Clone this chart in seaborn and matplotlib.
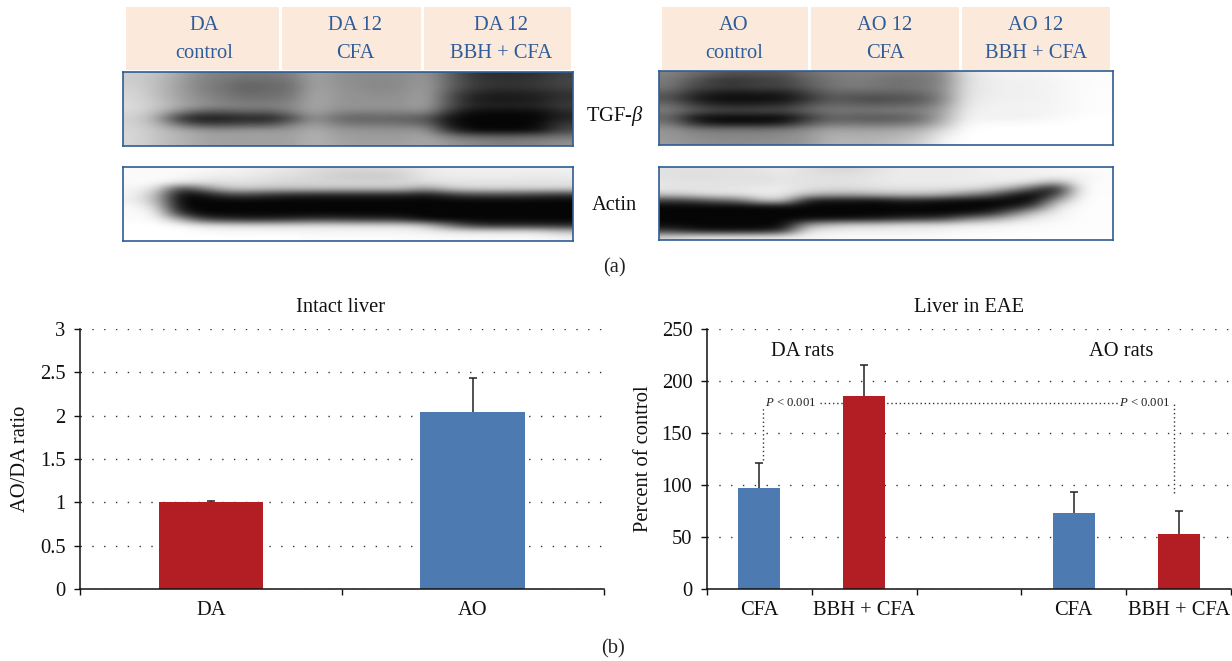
import matplotlib
matplotlib.use("Agg")
import matplotlib.pyplot as plt
from matplotlib.patches import Rectangle
import numpy as np
import pandas as pd
import seaborn as sns

# bar values
intact_groups = ["DA", "AO"]
intact_values = [1.0, 2.04]
intact_err = [0.01, 0.39]

eae_groups = ["DA CFA", "DA BBH", "gap", "AO CFA", "AO BBH"]
eae_labels = ["CFA", "BBH + CFA", "", "CFA", "BBH + CFA"]
eae_values = [97, 185.5, np.nan, 73, 53]
eae_err = [24, 30, 0, 20, 22]

header_da = ["DA\ncontrol", "DA 12\nCFA", "DA 12\nBBH + CFA"]
header_ao = ["AO\ncontrol", "AO 12\nCFA", "AO 12\nBBH + CFA"]

# blots as coarse grey levels (0 black, 255 white), 12 rows x 20 columns
tgf_da = [
    [205, 195, 165, 135, 125, 120, 120, 125, 165, 145, 140, 140, 140, 150, 100, 55, 45, 45, 50, 65],
    [205, 190, 160, 130, 120, 105, 110, 115, 165, 145, 140, 135, 140, 155, 100, 60, 50, 50, 55, 70],
    [210, 190, 160, 130, 115, 95, 105, 110, 165, 150, 140, 135, 140, 160, 100, 60, 50, 50, 55, 65],
    [215, 190, 160, 135, 120, 105, 110, 115, 170, 150, 145, 140, 145, 160, 85, 40, 30, 30, 35, 50],
    [215, 195, 165, 140, 125, 115, 115, 125, 170, 150, 145, 145, 145, 165, 80, 30, 25, 25, 30, 50],
    [220, 200, 170, 145, 135, 130, 130, 135, 170, 150, 150, 150, 150, 160, 80, 40, 35, 35, 40, 60],
    [215, 190, 130, 85, 85, 95, 90, 125, 165, 135, 130, 130, 130, 140, 50, 10, 10, 10, 10, 40],
    [210, 170, 50, 20, 25, 35, 30, 70, 150, 105, 95, 100, 95, 85, 15, 5, 5, 5, 5, 35],
    [210, 185, 115, 70, 70, 80, 80, 125, 160, 130, 120, 120, 115, 110, 20, 5, 5, 5, 10, 60],
    [215, 195, 175, 155, 150, 155, 155, 155, 175, 155, 150, 150, 150, 150, 50, 10, 5, 5, 15, 70],
    [215, 195, 180, 165, 160, 160, 160, 160, 180, 160, 155, 155, 155, 165, 130, 110, 105, 105, 110, 120],
    [215, 195, 180, 165, 160, 160, 160, 160, 180, 165, 160, 160, 160, 170, 150, 140, 130, 130, 135, 145],
]
actin_da = [
    [250, 250, 250, 248, 245, 240, 235, 230, 220, 215, 215, 215, 220, 235, 240, 240, 240, 240, 240, 240],
    [250, 250, 248, 240, 235, 235, 225, 220, 215, 205, 200, 200, 210, 230, 235, 235, 235, 235, 230, 235],
    [250, 250, 235, 225, 225, 225, 220, 215, 215, 215, 215, 215, 215, 225, 228, 228, 228, 228, 228, 228],
    [245, 225, 60, 120, 190, 200, 190, 190, 190, 190, 190, 190, 190, 150, 200, 210, 210, 210, 210, 210],
    [245, 190, 10, 15, 60, 70, 50, 40, 35, 35, 35, 35, 35, 20, 50, 70, 70, 70, 60, 50],
    [240, 190, 5, 5, 5, 5, 5, 5, 5, 5, 5, 5, 5, 5, 5, 5, 5, 5, 5, 5],
    [250, 220, 10, 5, 5, 5, 5, 5, 5, 5, 5, 5, 5, 5, 5, 5, 5, 5, 5, 5],
    [250, 245, 50, 5, 5, 5, 5, 5, 5, 5, 5, 5, 5, 5, 5, 5, 5, 5, 5, 5],
    [250, 250, 180, 70, 50, 40, 40, 50, 60, 60, 50, 50, 40, 5, 5, 5, 5, 5, 5, 5],
    [255, 255, 250, 235, 225, 225, 225, 225, 228, 228, 225, 225, 225, 200, 120, 60, 45, 45, 45, 40],
    [255, 255, 255, 250, 248, 248, 248, 245, 245, 245, 245, 245, 245, 240, 235, 230, 230, 230, 225, 200],
    [255, 255, 255, 255, 255, 255, 255, 255, 252, 252, 252, 252, 252, 252, 250, 250, 250, 250, 250, 245],
]
tgf_ao = [
    [130, 110, 90, 80, 85, 85, 110, 125, 130, 130, 125, 125, 135, 225, 240, 245, 245, 250, 252, 253],
    [120, 85, 55, 50, 60, 65, 95, 115, 125, 120, 110, 115, 130, 220, 235, 240, 240, 245, 250, 252],
    [120, 75, 65, 60, 70, 70, 90, 115, 125, 120, 115, 120, 135, 225, 235, 240, 240, 245, 250, 252],
    [95, 50, 30, 25, 30, 30, 65, 100, 100, 100, 100, 105, 135, 225, 235, 240, 240, 245, 250, 253],
    [80, 30, 10, 10, 10, 15, 45, 85, 80, 70, 80, 85, 130, 228, 238, 240, 240, 245, 250, 253],
    [110, 65, 40, 35, 40, 45, 80, 105, 100, 95, 100, 105, 145, 232, 240, 242, 242, 245, 250, 253],
    [125, 90, 75, 70, 75, 75, 100, 120, 120, 120, 125, 130, 160, 238, 242, 242, 242, 245, 250, 253],
    [100, 20, 5, 5, 5, 5, 50, 95, 90, 85, 90, 105, 170, 240, 242, 240, 242, 248, 252, 255],
    [120, 50, 20, 20, 20, 30, 85, 115, 115, 110, 115, 130, 185, 248, 250, 250, 252, 253, 255, 255],
    [150, 125, 120, 120, 120, 125, 140, 165, 160, 160, 165, 175, 215, 253, 255, 255, 255, 255, 255, 255],
    [150, 140, 135, 135, 135, 140, 150, 175, 175, 175, 180, 195, 235, 255, 255, 255, 255, 255, 255, 255],
    [155, 145, 140, 140, 140, 145, 150, 180, 180, 180, 190, 205, 245, 255, 255, 255, 255, 255, 255, 255],
]
actin_ao = [
    [225, 225, 225, 225, 230, 235, 225, 215, 215, 225, 235, 235, 235, 235, 240, 240, 240, 245, 250, 252],
    [225, 220, 225, 225, 225, 230, 225, 225, 225, 230, 235, 235, 235, 235, 238, 240, 240, 245, 240, 250],
    [228, 225, 225, 225, 225, 230, 225, 225, 225, 230, 235, 235, 235, 235, 235, 235, 225, 170, 245, 252],
    [230, 230, 230, 230, 235, 235, 225, 220, 220, 225, 225, 225, 225, 225, 210, 170, 90, 15, 245, 252],
    [200, 210, 225, 225, 235, 235, 190, 170, 170, 180, 190, 190, 180, 140, 110, 40, 5, 60, 248, 252],
    [60, 70, 100, 110, 190, 200, 30, 20, 20, 10, 30, 30, 15, 10, 5, 5, 5, 160, 250, 253],
    [5, 5, 5, 5, 5, 10, 5, 5, 5, 5, 5, 5, 5, 5, 5, 20, 70, 225, 252, 253],
    [5, 5, 5, 5, 5, 5, 5, 5, 5, 5, 5, 5, 5, 10, 30, 100, 190, 240, 252, 253],
    [5, 5, 5, 5, 5, 5, 10, 10, 15, 20, 40, 50, 60, 120, 150, 200, 235, 245, 252, 253],
    [10, 5, 5, 5, 5, 5, 150, 190, 210, 210, 220, 225, 225, 235, 240, 245, 248, 250, 253, 253],
    [60, 30, 20, 20, 25, 50, 230, 235, 240, 240, 240, 240, 245, 248, 250, 250, 252, 253, 253, 253],
    [215, 230, 235, 235, 235, 240, 245, 248, 250, 250, 250, 250, 250, 252, 252, 253, 253, 253, 253, 253],
]

RED = "#b21e24"
BLUE = "#4e7ab2"
FRAME = "#2f5c94"
INK = "#111111"
FS = 14.8
W, H = 1232, 661

sns.set_theme(style="white")
plt.rcParams["font.family"] = ["Liberation Serif", "DejaVu Serif"]
plt.rcParams["mathtext.fontset"] = "custom"
plt.rcParams["mathtext.rm"] = "Liberation Serif"
plt.rcParams["mathtext.it"] = "Liberation Serif:italic"

fig = plt.figure(figsize=(W / 100, H / 100), dpi=100)


def px_axes(x0, y0, x1, y1):
    return fig.add_axes([x0 / W, 1 - y1 / H, (x1 - x0) / W, (y1 - y0) / H])


# page overlay in pixel coordinates, for headers and loose labels
page = px_axes(0, 0, W, H)
page.set_xlim(0, W)
page.set_ylim(H, 0)
page.axis("off")

for spans, names, centres in [([(126, 279), (282, 421), (424, 571)], header_da, (204, 355, 501)),
                              ([(662, 808), (811, 959), (962, 1110)], header_ao, (734, 885, 1036))]:
    for (a, b), name, mid in zip(spans, names, centres):
        page.add_patch(Rectangle((a, 7), b - a, 63, color="#fbe9db", lw=0))
        first, second = name.split("\n")
        page.text(mid, 25, first, color="#2f5c9a", fontsize=FS, ha="center", va="center")
        page.text(mid, 53, second, color="#2f5c9a", fontsize=FS, ha="center", va="center")

page.text(615, 116, r"TGF-$\mathit{\beta}$", fontsize=FS, ha="center", va="center", color=INK)
page.text(614, 205, "Actin", fontsize=FS, ha="center", va="center", color=INK)
page.text(614, 268, "(a)", fontsize=FS, ha="center", va="center", color="#222222")
page.text(613, 649, "(b)", fontsize=FS, ha="center", va="center", color="#222222")

# western blots
for grid, box in [(tgf_da, (123, 72, 573, 146)), (actin_da, (123, 167, 573, 241)),
                  (tgf_ao, (659, 71, 1113, 145)), (actin_ao, (659, 167, 1113, 240))]:
    ax = px_axes(*box)
    ax.imshow(np.array(grid), cmap="gray", vmin=0, vmax=255, aspect="auto", interpolation="bicubic")
    ax.set_xticks([])
    ax.set_yticks([])
    for s in ax.spines.values():
        s.set_color(FRAME)
        s.set_linewidth(1.2)


def style_bars(ax, n, ylabel, label_x, labels):
    sns.despine(ax=ax)
    ax.set_xlim(-0.5, n - 0.5)
    ax.set_xticks(np.arange(n + 1) - 0.5)
    ax.set_xticklabels([])
    ax.set_xticks(np.arange(n), labels=labels, minor=True)
    ax.tick_params(axis="x", which="major", length=4, width=1, color=INK, bottom=True)
    ax.tick_params(axis="x", which="minor", length=0, labelsize=FS, pad=8.5, labelcolor=INK)
    ax.tick_params(axis="y", length=4, width=1, color=INK, left=True, labelsize=FS,
                   pad=6.5, labelcolor=INK)
    for s in ("left", "bottom"):
        ax.spines[s].set_color(INK)
        ax.spines[s].set_linewidth(1.1)
    ax.set_axisbelow(True)
    ax.yaxis.grid(True, linestyle=(0, (1, 7.5)), linewidth=1, color="#333333")
    ax.xaxis.grid(False)
    ax.set_xlabel("")
    ax.set_ylabel(ylabel, fontsize=FS, color=INK, va="center")
    ax.yaxis.set_label_coords(label_x, 0.5)


def upper_errors(ax, values, err):
    # only the upper whisker and cap, like the original
    caps = ax.errorbar(range(len(values)), values, yerr=[[0] * len(err), err], fmt="none",
                       ecolor="#222222", elinewidth=1.1, capsize=3, capthick=1.1)[1]
    caps[0].set_visible(False)


# panel b left
ax1 = px_axes(80, 329, 603.5, 589)
intact_df = pd.DataFrame({"group": intact_groups, "value": intact_values})
sns.barplot(data=intact_df, x="group", y="value", hue="group", order=intact_groups,
            palette=[RED, BLUE], width=0.4, errorbar=None, saturation=1, legend=False,
            linewidth=0, ax=ax1)
upper_errors(ax1, intact_values, intact_err)
ax1.set_ylim(0, 3)
ax1.set_yticks([0, 0.5, 1, 1.5, 2, 2.5, 3], labels=["0", "0.5", "1", "1.5", "2", "2.5", "3"])
style_bars(ax1, 2, "AO/DA ratio", (21 - 80) / 523.5, intact_groups)
page.text(341, 307, "Intact liver", fontsize=FS, ha="center", va="center", color=INK)

# panel b right
ax2 = px_axes(707, 329, 1231, 589)
eae_df = pd.DataFrame({"group": eae_groups, "value": eae_values})
sns.barplot(data=eae_df, x="group", y="value", hue="group", order=eae_groups,
            palette=[BLUE, RED, BLUE, BLUE, RED], width=0.4, errorbar=None, saturation=1,
            legend=False, linewidth=0, ax=ax2)
upper_errors(ax2, eae_values, eae_err)
ax2.set_ylim(0, 250)
ax2.set_yticks([0, 50, 100, 150, 200, 250])
style_bars(ax2, 5, "Percent of control", (644 - 707) / 524, eae_labels)
page.text(969, 307, "Liver in EAE", fontsize=FS, ha="center", va="center", color=INK)
page.text(803, 351, "DA rats", fontsize=FS, ha="center", va="center", color=INK)
page.text(1121, 351, "AO rats", fontsize=FS, ha="center", va="center", color=INK)

# significance brackets
dots = dict(color="#333333", linewidth=1, linestyle=(0, (1, 2)), zorder=0.6)
ax2.plot([0.03, 0.03], [124, 174], **dots)
ax2.plot([0.58, 3.43], [179, 179], **dots)
ax2.plot([3.956, 3.956], [92, 179], **dots)
for px in (765, 1119):
    page.text(px, 403, r"$\mathit{P}$ < 0.001", fontsize=9.2, ha="left", va="center", color="#222222",
              bbox=dict(facecolor="white", edgecolor="none", pad=0.5))
page.set_zorder(5)
page.patch.set_alpha(0)

fig.savefig("out.png", dpi=100)
